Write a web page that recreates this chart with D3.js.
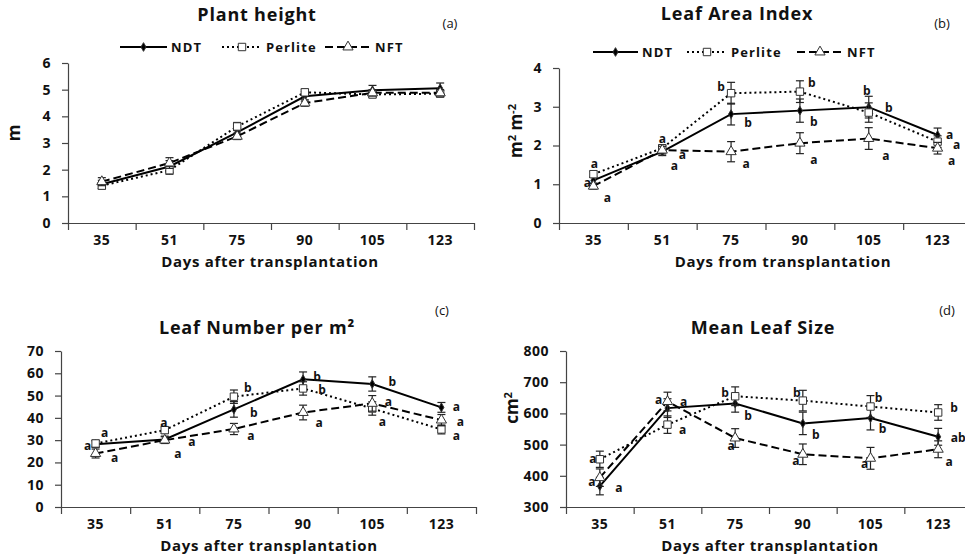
<!DOCTYPE html>
<html>
<head>
<meta charset="utf-8">
<script src="https://cdn.jsdelivr.net/npm/d3@7"></script>
<style>
	body { margin: 0; background: #fff; }
	text { font-family: "Open Sans", sans-serif; font-weight: bold; fill: #111; }
	.axis path, .axis line { stroke: #444; stroke-width: 1.2; }
	.axis text { font-size: 14px; letter-spacing: 0.5px; font-family: "Open Sans", sans-serif; font-weight: bold; fill: #111; }
</style>
</head>
<body>
<svg id="chart" width="965" height="559"></svg>
<script>
// categories
var days = ["35", "51", "75", "90", "105", "123"];
var seriesNames = ["NDT", "Perlite", "NFT"];

// (a) plant height, m
var heightNDT = [1.45, 2.12, 3.4, 4.75, 4.98, 5.05];
var heightPerlite = [1.4, 1.98, 3.62, 4.9, 4.82, 4.85];
var heightNFT = [1.55, 2.25, 3.25, 4.5, 4.88, 4.88];
var heightErrNDT = [0.15, 0.22, 0.15, 0.18, 0.18, 0.2];
var heightErrPerlite = [0.12, 0.15, 0.15, 0.12, 0.12, 0.12];
var heightErrNFT = [0.15, 0.2, 0.12, 0.12, 0.12, 0.12];

// (b) leaf area index
var laiNDT = [1.1, 1.84, 2.81, 2.9, 2.99, 2.27];
var laiPerlite = [1.26, 1.93, 3.35, 3.39, 2.85, 2.1];
var laiNFT = [0.95, 1.88, 1.84, 2.06, 2.18, 1.93];
var laiErrNDT = [0.08, 0.1, 0.28, 0.3, 0.28, 0.18];
var laiErrPerlite = [0.08, 0.08, 0.28, 0.28, 0.25, 0.15];
var laiErrNFT = [0.08, 0.1, 0.26, 0.27, 0.28, 0.15];
var laiLetNDT = ["a", "a", "b", "b", "b", "a"];
var laiLetPerlite = ["a", "a", "b", "b", "b", "a"];
var laiLetNFT = ["a", "a", "a", "a", "a", "a"];

// (c) leaf number per m2
var numNDT = [28.2, 30.3, 43.8, 57.3, 55.2, 44.7];
var numPerlite = [28.5, 34.5, 49.5, 53.2, 44.2, 34.8];
var numNFT = [24, 30, 35, 42.4, 46.5, 39];
var numErrNDT = [1.5, 1.5, 3.5, 3.3, 3.2, 2.2];
var numErrPerlite = [1.5, 1.5, 3, 3, 3, 2];
var numErrNFT = [2, 1.5, 2.5, 3.3, 3.5, 2.5];
var numLetNDT = ["a", "a", "b", "b", "b", "a"];
var numLetPerlite = ["a", "a", "b", "b", "a", "a"];
var numLetNFT = ["a", "a", "a", "a", "a", "a"];

// (d) mean leaf size, cm2
var sizeNDT = [367, 617, 632, 568, 585, 525];
var sizePerlite = [453, 564, 655, 641, 622, 603];
var sizeNFT = [394, 638, 521, 469, 456, 485];
var sizeErrNDT = [28, 30, 28, 36, 38, 27];
var sizeErrPerlite = [26, 28, 30, 33, 35, 25];
var sizeErrNFT = [28, 30, 30, 33, 35, 27];
var sizeLetNDT = ["a", "a", "b", "b", "b", "ab"];
var sizeLetPerlite = ["a", "a", "b", "b", "b", "b"];
var sizeLetNFT = ["a", "a", "a", "a", "a", "a"];

// letter placement (pixel offsets from the point), [dx, dy] per day
var laiOffNDT = [[-6, 2], [12, 14], [17, 8], [14, 11], [-2, -17], [12, -1]];
var laiOffPerlite = [[1, -11], [0, -10], [-10, -7], [12, -9], [20, -5], [19, 3]];
var laiOffNFT = [[14, 11], [20, 4], [15, 12], [14, 16], [17, 17], [14, 12]];
var numOffNDT = [[-8, 1], [27, 2], [20, 3], [14, -3], [20, -2], [15, -1]];
var numOffPerlite = [[9, -11], [-1, -8], [14, -9], [19, 1], [10, 13], [15, 6]];
var numOffNFT = [[19, 4], [13, 13], [17, 6], [16, 10], [16, -2], [19, 1]];
var sizeOffNDT = [[19, 1], [16, -7], [13, 12], [13, 11], [12, 10], [20, 1]];
var sizeOffPerlite = [[-7, -1], [15, 5], [-10, -4], [-6, -8], [8, -9], [16, -5]];
var sizeOffNFT = [[-8, 4], [-9, -2], [-4, 7], [-7, 6], [-6, 5], [11, 12]];

var styles = {
	NDT: { dash: null, width: 2, symbol: d3.symbolDiamond, size: 22, fill: "#000" },
	Perlite: { dash: "2,3", width: 2, symbol: d3.symbolSquare, size: 55, fill: "#fff" },
	NFT: { dash: "8,4", width: 2, symbol: d3.symbolTriangle, size: 45, fill: "#fff" }
};

var svg = d3.select("#chart");

function drawPanel(p) {
	var g = svg.append("g");

	var xBand = d3.scaleBand().domain(days).range([p.x0, p.x1]);
	var xEdge = d3.scaleLinear().domain([0, days.length]).range([p.x0, p.x1]);
	var y = d3.scaleLinear().domain(p.domain).range([p.y1, p.y0]);

	// x axis: ticks at the band edges, labels at centres
	g.append("g")
		.attr("class", "axis")
		.attr("transform", "translate(0," + p.y1 + ")")
		.call(d3.axisBottom(xEdge).tickValues(d3.range(days.length + 1)).tickFormat("").tickSize(7).tickSizeOuter(0));
	var xl = g.append("g")
		.attr("class", "axis")
		.attr("transform", "translate(0," + p.y1 + ")")
		.call(d3.axisBottom(xBand).tickSize(0).tickPadding(12));
	xl.select(".domain").remove();

	// y axis
	g.append("g")
		.attr("class", "axis")
		.attr("transform", "translate(" + p.x0 + ",0)")
		.call(d3.axisLeft(y)
			.tickValues(d3.range(p.domain[0], p.domain[1] + p.step / 2, p.step))
			.tickFormat(d3.format("d"))
			.tickSize(6).tickSizeOuter(0).tickPadding(11));

	var line = d3.line()
		.x(function(d, i) { return xBand(days[i]) + xBand.bandwidth() / 2; })
		.y(function(d) { return y(d); });

	p.series.forEach(function(s) {
		var st = styles[s.name];
		var sg = g.append("g");
		sg.append("path")
			.attr("d", line(s.vals))
			.attr("fill", "none")
			.attr("stroke", "#000")
			.attr("stroke-width", st.width)
			.attr("stroke-dasharray", st.dash);

		// error bars
		s.vals.forEach(function(v, i) {
			var cx = xBand(days[i]) + xBand.bandwidth() / 2;
			var e = s.errs[i];
			sg.append("line").attr("x1", cx).attr("x2", cx).attr("y1", y(v + e)).attr("y2", y(v - e))
				.attr("stroke", "#222").attr("stroke-width", 1.2);
			sg.append("line").attr("x1", cx - 4).attr("x2", cx + 4).attr("y1", y(v + e)).attr("y2", y(v + e))
				.attr("stroke", "#222").attr("stroke-width", 1.2);
			sg.append("line").attr("x1", cx - 4).attr("x2", cx + 4).attr("y1", y(v - e)).attr("y2", y(v - e))
				.attr("stroke", "#222").attr("stroke-width", 1.2);
		});

		sg.selectAll("path.pt")
			.data(s.vals)
			.enter()
			.append("path")
			.attr("class", "pt")
			.attr("d", d3.symbol().type(st.symbol).size(st.size))
			.attr("transform", function(d, i) { return "translate(" + (xBand(days[i]) + xBand.bandwidth() / 2) + "," + y(d) + ")"; })
			.attr("fill", st.fill)
			.attr("stroke", "#333")
			.attr("stroke-width", 1);

		if (s.letters) {
			sg.selectAll("text.let")
				.data(s.letters)
				.enter()
				.append("text")
				.attr("class", "let")
				.attr("x", function(d, i) { return xBand(days[i]) + xBand.bandwidth() / 2 + s.offs[i][0]; })
				.attr("y", function(d, i) { return y(s.vals[i]) + s.offs[i][1]; })
				.attr("text-anchor", "middle")
				.attr("dominant-baseline", "central")
				.style("font-size", "12px")
				.text(function(d) { return d; });
		}
	});

	// title and tag
	g.append("text").attr("x", p.titleX).attr("y", p.titleY).attr("text-anchor", "middle")
		.style("font-size", "18px").style("letter-spacing", "0.8px").text(p.title);
	g.append("text").attr("x", p.tagX).attr("y", p.tagY).attr("text-anchor", "middle")
		.style("font-size", "13px").style("font-weight", "normal").text(p.tag);

	// axis titles
	g.append("text").attr("x", p.xTitleX).attr("y", p.y1 + 44).attr("text-anchor", "middle")
		.style("font-size", "15px").style("letter-spacing", "0.7px").text(p.xTitle);
	if (p.yTitle) {
		var yt = g.append("text")
			.attr("transform", "translate(" + p.yTitleX + "," + p.yTitleY + ") rotate(-90)")
			.attr("text-anchor", "middle")
			.style("font-size", "17px");
		p.yTitle.forEach(function(part) {
			yt.append("tspan")
				.attr("dy", part.sup ? -6 : (part.after ? 6 : 0))
				.style("font-size", part.sup ? "11px" : "17px")
				.text(part.t);
		});
	}

	// legend
	if (p.legend) {
		var lg = g.append("g");
		p.legend.forEach(function(item) {
			var st = styles[item.name];
			lg.append("line").attr("x1", item.x0).attr("x2", item.x1).attr("y1", p.legendY).attr("y2", p.legendY)
				.attr("stroke", "#000").attr("stroke-width", st.width).attr("stroke-dasharray", st.dash);
			lg.append("path")
				.attr("d", d3.symbol().type(st.symbol).size(st.size))
				.attr("transform", "translate(" + (item.x0 + item.x1) / 2 + "," + p.legendY + ")")
				.attr("fill", st.fill).attr("stroke", "#333");
			lg.append("text").attr("x", item.x1 + 4).attr("y", p.legendY).attr("dominant-baseline", "central")
				.style("font-size", "13px").style("letter-spacing", "1.1px").text(item.name);
		});
	}
}

drawPanel({
	x0: 68, x1: 474, y0: 63, y1: 223, domain: [0, 6], step: 1,
	title: "Plant height", titleX: 257, titleY: 21, tag: "(a)", tagX: 450, tagY: 28,
	xTitle: "Days after transplantation", xTitleX: 270,
	yTitle: [{ t: "m" }], yTitleX: 20, yTitleY: 133,
	legendY: 47,
	legend: [{ name: "NDT", x0: 120, x1: 167 }, { name: "Perlite", x0: 222, x1: 262 }, { name: "NFT", x0: 325, x1: 371 }],
	series: [
		{ name: "NDT", vals: heightNDT, errs: heightErrNDT },
		{ name: "Perlite", vals: heightPerlite, errs: heightErrPerlite },
		{ name: "NFT", vals: heightNFT, errs: heightErrNFT }
	]
});

drawPanel({
	x0: 559, x1: 972, y0: 68, y1: 223, domain: [0, 4], step: 1,
	title: "Leaf Area Index", titleX: 737, titleY: 20, tag: "(b)", tagX: 942, tagY: 28,
	xTitle: "Days from transplantation", xTitleX: 783,
	yTitle: [{ t: "m" }, { t: "2", sup: true }, { t: " m", after: true }, { t: "-2", sup: true }], yTitleX: 522, yTitleY: 131,
	legendY: 52,
	legend: [{ name: "NDT", x0: 593, x1: 638 }, { name: "Perlite", x0: 687, x1: 727 }, { name: "NFT", x0: 797, x1: 843 }],
	series: [
		{ name: "NDT", vals: laiNDT, errs: laiErrNDT, letters: laiLetNDT, offs: laiOffNDT },
		{ name: "Perlite", vals: laiPerlite, errs: laiErrPerlite, letters: laiLetPerlite, offs: laiOffPerlite },
		{ name: "NFT", vals: laiNFT, errs: laiErrNFT, letters: laiLetNFT, offs: laiOffNFT }
	]
});

drawPanel({
	x0: 61, x1: 476, y0: 351, y1: 507, domain: [0, 70], step: 10,
	title: "Leaf Number per m\u00b2", titleX: 257, titleY: 334, tag: "(c)", tagX: 442, tagY: 315,
	xTitle: "Days after transplantation", xTitleX: 269,
	series: [
		{ name: "NDT", vals: numNDT, errs: numErrNDT, letters: numLetNDT, offs: numOffNDT },
		{ name: "Perlite", vals: numPerlite, errs: numErrPerlite, letters: numLetPerlite, offs: numOffPerlite },
		{ name: "NFT", vals: numNFT, errs: numErrNFT, letters: numLetNFT, offs: numOffNFT }
	]
});

drawPanel({
	x0: 566, x1: 972, y0: 351, y1: 507, domain: [300, 800], step: 100,
	title: "Mean Leaf Size", titleX: 763, titleY: 334, tag: "(d)", tagX: 947, tagY: 315,
	xTitle: "Days after transplantation", xTitleX: 770,
	yTitle: [{ t: "cm" }, { t: "2", sup: true }], yTitleX: 518, yTitleY: 408,
	series: [
		{ name: "NDT", vals: sizeNDT, errs: sizeErrNDT, letters: sizeLetNDT, offs: sizeOffNDT },
		{ name: "Perlite", vals: sizePerlite, errs: sizeErrPerlite, letters: sizeLetPerlite, offs: sizeOffPerlite },
		{ name: "NFT", vals: sizeNFT, errs: sizeErrNFT, letters: sizeLetNFT, offs: sizeOffNFT }
	]
});
</script>
</body>
</html>
